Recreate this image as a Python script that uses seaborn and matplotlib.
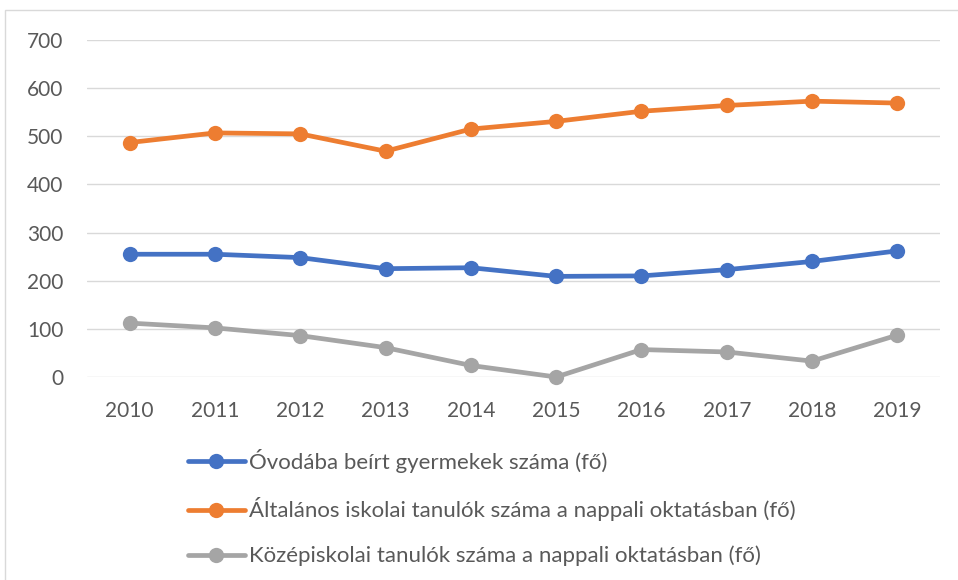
import matplotlib
matplotlib.use("Agg")
import matplotlib.pyplot as plt
import seaborn as sns
import pandas as pd
from matplotlib.patches import Rectangle

years = [2010, 2011, 2012, 2013, 2014, 2015, 2016, 2017, 2018, 2019]
ovoda = [255, 255, 248, 225, 227, 209, 210, 223, 240, 262]
altalanos = [487, 507, 505, 469, 515, 531, 552, 564, 573, 569]
kozep = [112, 102, 86, 61, 24, 0, 57, 52, 33, 87]

labels = [
    "Óvodába beírt gyermekek száma (fő)",
    "Általános iskolai tanulók száma a nappali oktatásban (fő)",
    "Középiskolai tanulók száma a nappali oktatásban (fő)",
]
colors = ["#4472C4", "#ED7D31", "#A5A5A5"]

df = pd.DataFrame({
    "year": years * 3,
    "value": ovoda + altalanos + kozep,
    "series": [labels[0]] * 10 + [labels[1]] * 10 + [labels[2]] * 10,
})

sns.set_style("white")
plt.rcParams["font.family"] = ["Lato", "DejaVu Sans"]

fig = plt.figure(figsize=(9.58, 5.8), dpi=100)
ax = fig.add_axes([87 / 958, 1 - 377 / 580, 853 / 958, 337 / 580])

sns.lineplot(data=df, x="year", y="value", hue="series", hue_order=labels,
             palette=colors, marker="o", markersize=11, markeredgewidth=0,
             linewidth=3.4, ax=ax, zorder=3)

ax.set_xlim(2009.5, 2019.5)
ax.set_ylim(0, 700)
ax.set_xticks(years)
ax.set_yticks(range(0, 701, 100))
ax.yaxis.grid(True, color="#D9D9D9", linewidth=1)
ax.set_axisbelow(True)
for s in ax.spines.values():
    s.set_visible(False)
ax.tick_params(axis="both", length=0, labelsize=15, labelcolor="#595959")
ax.tick_params(axis="x", pad=17)
ax.tick_params(axis="y", pad=17)
ax.set_xlabel("")
ax.set_ylabel("")
for line in ax.lines:
    line.set_clip_on(False)

handles, lbls = ax.get_legend_handles_labels()
ax.get_legend().remove()
fig.legend(handles, lbls, loc="upper left", bbox_to_anchor=(188 / 958, 1 - 449 / 580),
           frameon=False, fontsize=16, handlelength=2.55, handletextpad=0.18,
           labelspacing=1.1, borderpad=0, borderaxespad=0, labelcolor="#595959")

# light frame around the chart area
fig.patches.append(Rectangle((5 / 958, -0.05), 1.0, 1 - 10 / 580 + 0.05,
                             transform=fig.transFigure, fill=False,
                             edgecolor="#D9D9D9", linewidth=1))

fig.savefig("out.png", dpi=100)
